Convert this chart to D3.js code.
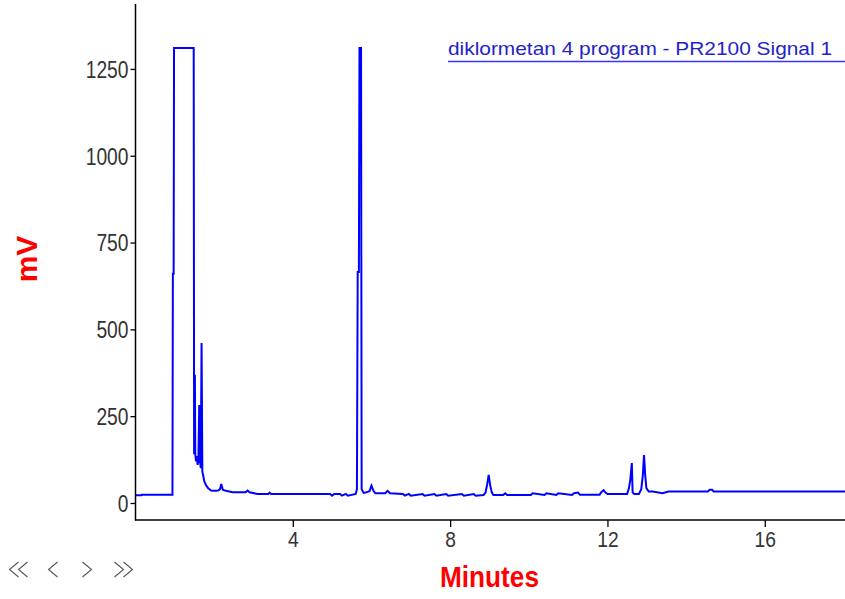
<!DOCTYPE html>
<html>
<head>
<meta charset="utf-8">
<script src="https://cdn.jsdelivr.net/npm/d3@7"></script>
<style>
  html, body { margin: 0; padding: 0; background: #fff; }
  svg { display: block; }
</style>
</head>
<body>
<svg id="chart" width="845" height="599"></svg>
<script>
// ---- data ----
const timeMin = [0.00, 0.15, 0.16, 0.94, 0.95, 0.97, 0.98, 1.48, 1.49, 1.51, 1.52, 1.54, 1.56, 1.58, 1.60, 1.62, 1.64, 1.66, 1.68, 1.70,
  1.72, 1.75, 1.80, 1.85, 1.92, 2.00, 2.05, 2.10, 2.15, 2.18, 2.22, 2.30, 2.47, 2.80, 2.85, 2.90, 3.10, 3.38, 3.41, 3.45,
  4.95, 5.00, 5.05, 5.20, 5.25, 5.35, 5.40, 5.60, 5.63, 5.65, 5.68, 5.695, 5.735, 5.75, 5.80, 5.85, 5.95, 6.00, 6.05, 6.10,
  6.35, 6.41, 6.47, 6.80, 6.85, 6.95, 7.00, 7.30, 7.35, 7.60, 7.65, 7.90, 7.95, 8.30, 8.35, 8.60, 8.65, 8.85, 8.90, 8.94,
  8.98, 9.02, 9.06, 9.10, 9.35, 9.40, 9.45, 10.05, 10.10, 10.40, 10.45, 10.70, 10.75, 11.10, 11.15, 11.25, 11.30, 11.80, 11.85, 11.90,
  11.95, 12.00, 12.50, 12.54, 12.58, 12.62, 12.64, 12.68, 12.80, 12.86, 12.90, 12.93, 12.96, 12.99, 13.05, 13.15, 13.40, 13.55, 14.55, 14.60,
  14.66, 14.70, 18.04];
const signalMv = [22, 22, 24, 24, 660, 660, 1310, 1310, 140, 369, 140, 120, 135, 110, 125, 282, 120, 100, 461, 90,
  80, 62, 50, 42, 36, 35, 35, 36, 40, 55, 38, 35, 31, 31, 36, 31, 26, 26, 30, 26,
  26, 21, 26, 26, 21, 26, 21, 26, 40, 665, 665, 1310, 1310, 40, 29, 30, 34, 50, 35, 28,
  28, 35, 28, 26, 21, 26, 21, 26, 21, 26, 21, 26, 21, 26, 21, 26, 21, 23, 30, 52,
  81, 50, 30, 23, 23, 28, 23, 23, 28, 23, 28, 23, 28, 23, 28, 30, 24, 24, 32, 37,
  30, 26, 26, 40, 66, 115, 30, 26, 26, 40, 81, 138, 80, 43, 33, 33, 28, 33, 33, 38,
  38, 33, 33];
const yTicks = [0, 250, 500, 750, 1000, 1250];
const xTicks = [4, 8, 12, 16];
const legendLabel = "diklormetan 4 program - PR2100 Signal 1";
const xTitle = "Minutes";
const yTitle = "mV";

// ---- layout ----
const svg = d3.select("#chart");
const mLeft = 135.5, mRight = 845, mTop = 4, mBottom = 520;

const x = d3.scaleLinear().domain([0, 18.04]).range([mLeft, mRight]);
const y = d3.scaleLinear().domain([-49, 1437]).range([mBottom, mTop]);

const narrow = "'Liberation Sans Narrow','Arial Narrow','Liberation Sans',Arial,sans-serif";

svg.append("defs").append("clipPath").attr("id", "plotclip")
  .append("rect").attr("x", mLeft).attr("y", mTop).attr("width", mRight - mLeft).attr("height", mBottom - mTop);

// trace
const pts = timeMin.map((t, i) => [t, signalMv[i]]);
const line = d3.line().x(d => x(d[0])).y(d => y(d[1]));
svg.append("path")
  .attr("clip-path", "url(#plotclip)")
  .attr("d", line(pts))
  .attr("fill", "none")
  .attr("stroke", "#0000ff")
  .attr("stroke-width", 2)
  .attr("stroke-linejoin", "miter");

// axes
const yAxis = d3.axisLeft(y).tickValues(yTicks).tickSize(5).tickPadding(2).tickFormat(d3.format("d"));
const gy = svg.append("g").attr("transform", `translate(${mLeft},0)`).call(yAxis);
gy.select(".domain").attr("d", `M0,${mTop}V${mBottom + 0.5}`).attr("stroke", "#000").attr("stroke-width", 1.5);
gy.selectAll(".tick line").attr("stroke", "#000").attr("stroke-width", 1.3);
gy.selectAll(".tick text")
  .attr("fill", "#333").style("font-family", narrow).style("font-size", "23px")
  .attr("dy", "0.36em")
  .attr("textLength", d => String(d).length * 10.7).attr("lengthAdjust", "spacingAndGlyphs");

const xAxis = d3.axisBottom(x).tickValues(xTicks).tickSize(7).tickPadding(3).tickFormat(d3.format("d"));
const gx = svg.append("g").attr("transform", `translate(0,${mBottom})`).call(xAxis);
gx.select(".domain").attr("d", `M${mLeft - 0.5},0H${mRight}`).attr("stroke", "#000").attr("stroke-width", 1.5);
gx.selectAll(".tick line").attr("stroke", "#000").attr("stroke-width", 1.3);
gx.selectAll(".tick text")
  .attr("fill", "#333").style("font-family", narrow).style("font-size", "22px")
  .attr("dy", "0.78em")
  .attr("textLength", d => String(d).length * 10.7).attr("lengthAdjust", "spacingAndGlyphs");

// titles
svg.append("text")
  .attr("x", 440).attr("y", 587)
  .attr("fill", "#ff0000").style("font-family", "'Liberation Sans',Arial,sans-serif")
  .style("font-size", "30px").style("font-weight", "bold")
  .attr("textLength", 99).attr("lengthAdjust", "spacingAndGlyphs")
  .text(xTitle);

svg.append("text")
  .attr("transform", "translate(37,259) rotate(-90)")
  .attr("text-anchor", "middle")
  .attr("fill", "#ff0000").style("font-family", "'Liberation Sans',Arial,sans-serif")
  .style("font-size", "30px").style("font-weight", "bold")
  .text(yTitle);

// legend
svg.append("text")
  .attr("x", 448).attr("y", 55)
  .attr("fill", "#2323c8").style("font-family", narrow).style("font-size", "19px")
  .attr("textLength", 384).attr("lengthAdjust", "spacingAndGlyphs")
  .text(legendLabel);
svg.append("line")
  .attr("x1", 448).attr("x2", 845).attr("y1", 61.5).attr("y2", 61.5)
  .attr("stroke", "#3535ff").attr("stroke-width", 1.6);

// navigation chevrons (UI icons)
const nav = svg.append("g").attr("fill", "none").attr("stroke", "#555").attr("stroke-width", 1.1);
const chev = (tipX, dir) => `M${tipX + dir * 9},562 L${tipX},569.5 L${tipX + dir * 9},577`;
nav.append("path").attr("d", chev(9.5, 1) + chev(18.5, 1));
nav.append("path").attr("d", chev(48.5, 1));
nav.append("path").attr("d", chev(91.5, -1));
nav.append("path").attr("d", chev(123.5, -1) + chev(132.5, -1));
</script>
</body>
</html>
